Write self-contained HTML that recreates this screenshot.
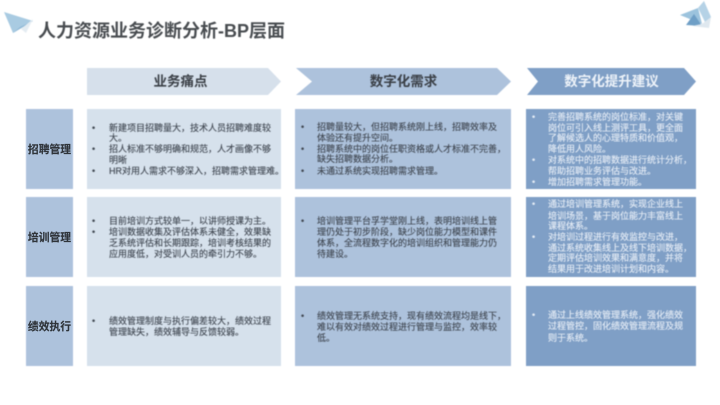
<!DOCTYPE html>
<html lang="zh">
<head>
<meta charset="utf-8">
<style>
html,body{margin:0;padding:0;background:#fff}
#p{position:relative;width:720px;height:405px;overflow:hidden;background:#fff;font-family:"Liberation Sans","Noto Sans CJK SC",sans-serif;color:#3f4650}
#p svg{position:absolute;left:0;top:0;filter:blur(.4px)}
.l{position:absolute;height:12px;line-height:12px;font-size:9px;white-space:nowrap;filter:blur(.45px);-webkit-text-stroke:.12px currentColor}
.w{color:#e6edf6}
.h{position:absolute;height:20px;line-height:20px;font-size:13.5px;font-weight:700;text-align:center;white-space:nowrap;color:#3a3f46;filter:blur(.4px)}
.r{position:absolute;left:26px;width:47px;height:16px;line-height:16px;font-family:"Noto Sans CJK SC","Liberation Sans",sans-serif;font-size:10.8px;font-weight:700;text-align:center;white-space:nowrap;color:#2f343a;filter:blur(.35px);-webkit-text-stroke:.15px currentColor}
#t{position:absolute;left:38px;top:19px;height:24px;line-height:24px;font-size:18px;font-weight:700;color:#484c50;white-space:nowrap;filter:blur(.45px)}
</style>
</head>
<body>
<div id="p">
<svg width="720" height="405" viewBox="0 0 720 405">
<polygon points="4,12 33,21 13,33" fill="#a9cbe2"/>
<polygon points="33,21 13,33 20,27" fill="#8fb8d6"/>
<polygon points="33,19 26,33 21,29" fill="#e4ecf2"/>
<polygon points="680,15 698,8 702,24" fill="#9cc3dd"/>
<polygon points="698,8 704,1 711,17 706,24" fill="#b5d2e6"/>
<polygon points="694,14 702,26 686,25" fill="#6f9fc6"/>
<polygon points="702,24 711,17 709,28 692,26" fill="#dfe8ef"/>
<polygon points="87,68 268,68 281,81.5 268,95 87,95" fill="#d6e0eb"/>
<polygon points="296,68 497,68 511,81.5 497,95 296,95 312,81.5" fill="#adc2dc"/>
<polygon points="527,68 684,68 696,81.5 684,95 527,95 538,81.5" fill="#7f9fc6"/>
<rect x="26" y="109" width="47" height="80" fill="#adc2dc"/>
<rect x="26" y="197" width="47" height="80" fill="#adc2dc"/>
<rect x="26" y="286" width="47" height="80" fill="#adc2dc"/>
<rect x="87" y="109" width="194" height="80" fill="#d6e1ec"/>
<rect x="87" y="197" width="194" height="80" fill="#d6e1ec"/>
<rect x="87" y="286" width="194" height="80" fill="#d6e1ec"/>
<rect x="295" y="109" width="216" height="80" fill="#adc2dc"/>
<rect x="295" y="197" width="216" height="80" fill="#adc2dc"/>
<rect x="295" y="286" width="216" height="80" fill="#adc2dc"/>
<rect x="526" y="109" width="170" height="80" fill="#7f9fc6"/>
<rect x="526" y="197" width="170" height="80" fill="#7f9fc6"/>
<rect x="526" y="286" width="170" height="80" fill="#7f9fc6"/>
</svg>

<div id="t">人力资源业务诊断分析-BP层面</div>

<div class="h" style="left:87px;width:187px;top:72px">业务痛点</div>
<div class="h" style="left:296px;width:215px;top:72px">数字化需求</div>
<div class="h" style="left:527px;width:169px;top:72px;color:#eef3f9">数字化提升建议</div>

<div class="r" style="top:141px">招聘管理</div>
<div class="r" style="top:229px">培训管理</div>
<div class="r" style="top:318px">绩效执行</div>

<!-- col 1 row 1 -->
<div class="l" style="left:92px;top:122px">•</div>
<div class="l" style="left:109px;top:122px">新建项目招聘量大，技术人员招聘难度较</div>
<div class="l" style="left:109px;top:132px">大。</div>
<div class="l" style="left:92px;top:143px">•</div>
<div class="l" style="left:109px;top:143px">招人标准不够明确和规范，人才画像不够</div>
<div class="l" style="left:109px;top:154px">明晰</div>
<div class="l" style="left:92px;top:165px">•</div>
<div class="l" style="left:109px;top:165px">HR对用人需求不够深入，招聘需求管理难。</div>
<!-- col 1 row 2 -->
<div class="l" style="left:92px;top:215px">•</div>
<div class="l" style="left:109px;top:215px">目前培训方式较单一，以讲师授课为主。</div>
<div class="l" style="left:92px;top:226px">•</div>
<div class="l" style="left:109px;top:226px">培训数据收集及评估体系未健全，效果缺</div>
<div class="l" style="left:109px;top:237px">乏系统评估和长期跟踪，培训考核结果的</div>
<div class="l" style="left:109px;top:248px">应用度低，对受训人员的牵引力不够。</div>
<!-- col 1 row 3 -->
<div class="l" style="left:92px;top:315px">•</div>
<div class="l" style="left:109px;top:315px">绩效管理制度与执行偏差较大，绩效过程</div>
<div class="l" style="left:109px;top:326px">管理缺失，绩效辅导与反馈较弱。</div>

<!-- col 2 row 1 -->
<div class="l" style="left:301px;top:121px">•</div>
<div class="l" style="left:317px;top:121px">招聘量较大，但招聘系统刚上线，招聘效率及</div>
<div class="l" style="left:317px;top:132px">体验还有提升空间。</div>
<div class="l" style="left:301px;top:143px">•</div>
<div class="l" style="left:317px;top:143px">招聘系统中的岗位任职资格或人才标准不完善，</div>
<div class="l" style="left:317px;top:153px">缺失招聘数据分析。</div>
<div class="l" style="left:301px;top:165px">•</div>
<div class="l" style="left:317px;top:165px">未通过系统实现招聘需求管理。</div>
<!-- col 2 row 2 -->
<div class="l" style="left:301px;top:215px">•</div>
<div class="l" style="left:317px;top:215px">培训管理平台孚学堂刚上线，表明培训线上管</div>
<div class="l" style="left:317px;top:226px">理仍处于初步阶段，缺少岗位能力模型和课件</div>
<div class="l" style="left:317px;top:237px">体系，全流程数字化的培训组织和管理能力仍</div>
<div class="l" style="left:317px;top:248px">待建设。</div>
<!-- col 2 row 3 -->
<div class="l" style="left:301px;top:310px">•</div>
<div class="l" style="left:317px;top:310px">绩效管理无系统支持，现有绩效流程均是线下，</div>
<div class="l" style="left:317px;top:321px">难以有效对绩效过程进行管理与监控，效率较</div>
<div class="l" style="left:317px;top:332px">低。</div>

<!-- col 3 row 1 -->
<div class="l w" style="left:532px;top:111px">•</div>
<div class="l w" style="left:548px;top:111px">完善招聘系统的岗位标准，对关键</div>
<div class="l w" style="left:548px;top:122px">岗位可引入线上测评工具，更全面</div>
<div class="l w" style="left:548px;top:132px">了解候选人的心理特质和价值观，</div>
<div class="l w" style="left:548px;top:143px">降低用人风险。</div>
<div class="l w" style="left:532px;top:154px">•</div>
<div class="l w" style="left:548px;top:154px">对系统中的招聘数据进行统计分析，</div>
<div class="l w" style="left:548px;top:165px">帮助招聘业务评估与改进。</div>
<div class="l w" style="left:532px;top:176px">•</div>
<div class="l w" style="left:548px;top:176px">增加招聘需求管理功能。</div>
<!-- col 3 row 2 -->
<div class="l w" style="left:532px;top:198px">•</div>
<div class="l w" style="left:548px;top:198px">通过培训管理系统，实现企业线上</div>
<div class="l w" style="left:548px;top:210px">培训场景，基于岗位能力丰富线上</div>
<div class="l w" style="left:548px;top:220px">课程体系。</div>
<div class="l w" style="left:532px;top:231px">•</div>
<div class="l w" style="left:548px;top:231px">对培训过程进行有效监控与改进，</div>
<div class="l w" style="left:548px;top:242px">通过系统收集线上及线下培训数据，</div>
<div class="l w" style="left:548px;top:252px">定期评估培训效果和满意度，并将</div>
<div class="l w" style="left:548px;top:263px">结果用于改进培训计划和内容。</div>
<!-- col 3 row 3 -->
<div class="l w" style="left:532px;top:309px">•</div>
<div class="l w" style="left:548px;top:309px">通过上线绩效管理系统，强化绩效</div>
<div class="l w" style="left:548px;top:320px">过程管控，固化绩效管理流程及规</div>
<div class="l w" style="left:548px;top:332px">则于系统。</div>
</div>
</body>
</html>
